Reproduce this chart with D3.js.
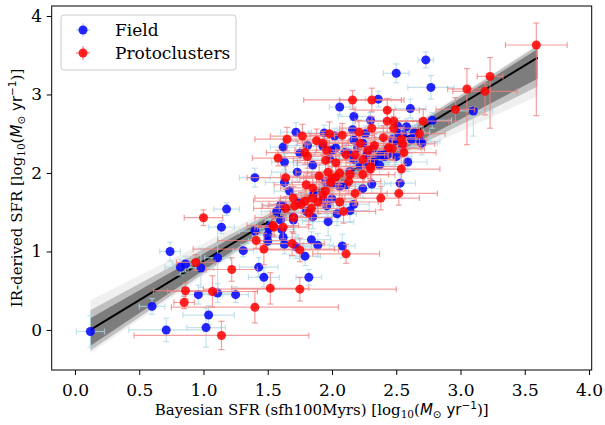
<!DOCTYPE html>
<html>
<head>
<meta charset="utf-8">
<script src="https://cdn.jsdelivr.net/npm/d3@7"></script>
<style>
  body { margin: 0; background: #fff; }
  svg text { font-family: "DejaVu Serif", serif; }
</style>
</head>
<body>
<svg width="605" height="425"></svg>
<script>
// [x, y, xerr, yerr]; yerr may be [lower, upper]
const fieldData = [
  [0.12,-0.02,0.11,0.20],[0.60,0.30,0.10,0.10],[0.71,0.00,0.29,0.15],[0.74,1.00,0.08,0.12],
  [0.82,0.80,0.12,0.10],[0.86,0.84,0.10,0.10],[0.98,0.79,0.10,0.25],[0.96,0.45,0.12,0.12],
  [1.02,0.03,0.15,0.25],[1.04,0.19,0.20,0.12],[1.11,0.92,0.10,0.40],[1.11,0.47,0.15,0.12],
  [1.14,1.31,0.10,0.08],[1.18,1.54,0.10,0.08],[1.25,0.45,0.10,0.10],[1.31,1.01,0.08,0.08],
  [1.40,1.94,0.12,0.12],[1.40,1.26,0.12,0.10],[1.43,0.80,0.15,0.12],[1.47,0.67,0.12,0.12],
  [1.50,1.13,0.15,0.10],[1.50,1.21,0.12,0.10],[1.51,1.29,0.10,0.12],[1.57,1.51,0.12,0.10],
  [1.60,1.59,0.15,0.10],[1.60,1.40,0.12,0.15],[1.61,1.28,0.10,0.10],[1.62,2.33,0.10,0.10],
  [1.62,1.18,0.12,0.10],[1.63,1.09,0.15,0.12],[1.63,1.88,0.15,0.12],[1.63,2.14,0.10,0.10],
  [1.67,1.77,0.12,0.10],[1.70,1.40,0.15,0.15],[1.72,1.06,0.12,0.15],[1.72,2.52,0.12,0.12],
  [1.73,2.01,0.20,0.12],[1.75,2.25,0.12,0.10],[1.79,0.94,0.12,0.12],[1.81,2.35,0.15,0.12],
  [1.82,0.67,0.10,0.10],[1.84,1.15,0.15,0.10],[1.85,2.10,0.15,0.12],[1.85,1.44,0.20,0.15],
  [1.89,1.08,0.12,0.15],[1.94,2.51,0.12,0.10],[1.93,2.34,0.15,0.10],[1.96,1.58,0.15,0.15],
  [1.97,1.38,0.20,0.18],[1.98,2.18,0.15,0.12],[2.00,1.87,0.15,0.12],[2.00,1.67,0.15,0.15],
  [2.02,2.47,0.15,0.10],[2.04,1.48,0.15,0.15],[2.06,2.84,0.08,0.10],[2.08,1.07,0.10,0.15],
  [2.03,2.32,0.12,0.12],[2.10,2.26,0.15,0.10],[2.11,1.85,0.20,0.12],[2.14,2.02,0.15,0.12],
  [2.14,1.52,0.15,0.15],[2.16,2.55,0.12,0.12],[2.17,1.60,0.12,0.12],[2.17,2.72,0.12,0.12],
  [2.20,2.32,0.15,0.10],[2.22,2.09,0.15,0.12],[2.24,1.80,0.15,0.12],[2.26,2.50,0.12,0.10],
  [2.28,2.26,0.15,0.10],[2.29,2.11,0.12,0.12],[2.30,2.67,0.10,0.10],[2.31,1.86,0.15,0.12],
  [2.33,2.17,0.12,0.10],[2.36,2.94,0.10,0.10],[2.37,2.10,0.12,0.12],[2.38,2.23,0.15,0.10],
  [2.43,2.23,0.12,0.10],[2.47,2.43,0.15,0.10],[2.50,3.27,0.10,0.12],[2.51,2.60,0.15,0.10],
  [2.53,1.87,0.12,0.12],[2.55,2.49,0.12,0.10],[2.58,2.59,0.12,0.10],[2.59,2.14,0.15,0.12],
  [2.61,2.82,0.12,0.12],[2.62,2.43,0.15,0.10],[2.64,2.51,0.12,0.10],[2.69,2.40,0.15,0.10],
  [2.70,2.38,0.12,0.15],[2.73,3.44,0.06,0.10],[2.77,3.09,0.18,0.15],[2.78,2.67,0.15,0.10],
  [3.10,2.79,0.15,[0.32,0.05]],[2.52,2.50,0.12,0.10],[2.17,2.42,0.12,0.10],[2.24,2.38,0.12,0.10],
  [2.48,2.40,0.12,0.10],[2.32,2.31,0.12,0.10],[2.55,2.33,0.12,0.10],[2.00,2.29,0.12,0.10],
  [2.13,2.25,0.12,0.10],[2.27,2.23,0.12,0.10],[2.41,2.21,0.12,0.10],[2.17,2.17,0.12,0.10],
  [2.32,2.14,0.12,0.10],[2.50,2.21,0.12,0.10],[2.43,2.29,0.12,0.10],[1.62,1.58,0.12,0.10],
  [1.70,1.44,0.12,0.12],[1.52,1.32,0.12,0.10],[1.80,1.51,0.15,0.12],[1.74,1.62,0.12,0.12],
  [1.86,1.74,0.15,0.12],[1.95,1.89,0.15,0.12],[2.06,1.83,0.15,0.12],[1.93,1.66,0.15,0.12]
];

const protoData = [
  [1.14,-0.07,0.68,0.18],[0.85,0.35,0.08,0.08],[0.86,0.50,0.25,0.10],[0.94,0.86,0.15,0.10],
  [1.00,1.43,0.15,0.10],[1.07,0.49,0.35,0.20],[1.22,0.77,0.20,0.15],[1.40,0.29,0.65,0.20],
  [1.41,1.14,0.30,0.10],[1.47,1.03,0.55,0.20],[1.52,0.53,0.30,0.20],[1.54,1.33,0.20,0.12],
  [1.55,1.31,0.15,0.12],[1.58,2.19,0.20,0.10],[1.62,1.31,0.20,0.15],[1.64,1.55,0.25,0.15],
  [1.64,1.94,0.30,0.15],[1.65,2.43,0.25,0.15],[1.69,1.10,0.25,0.15],[1.70,1.68,0.30,0.15],
  [1.71,1.58,0.25,0.15],[1.70,1.43,0.30,0.20],[1.75,1.02,0.30,0.15],[1.75,0.52,0.75,0.15],
  [1.77,2.47,0.25,0.15],[1.79,2.26,0.30,0.15],[1.81,2.21,0.25,0.15],[1.79,1.64,0.40,0.15],
  [1.80,1.85,0.25,0.15],[1.82,1.49,0.30,0.15],[1.84,1.55,0.25,0.15],[1.85,1.81,0.25,0.15],
  [1.89,1.63,0.30,0.15],[1.88,2.41,0.25,0.15],[1.90,1.96,0.30,0.15],[1.93,2.38,0.20,0.15],
  [1.95,2.16,0.25,0.15],[1.95,1.77,0.25,0.15],[1.97,2.01,0.25,0.15],[1.98,2.50,0.25,0.15],
  [1.99,1.88,0.30,0.15],[2.03,1.95,0.25,0.15],[2.03,2.13,0.30,0.15],[2.06,2.00,0.25,0.15],
  [2.06,1.63,0.30,0.15],[2.08,2.48,0.25,0.15],[2.09,1.51,0.25,0.15],[2.11,2.23,0.30,0.15],
  [2.11,0.97,0.26,0.12],[2.13,1.89,0.25,0.15],[2.14,1.98,0.30,0.15],[2.16,2.93,0.38,0.12],
  [2.18,2.23,0.25,0.15],[2.18,1.74,0.25,0.15],[2.21,2.52,0.25,0.15],[2.22,2.38,0.25,0.15],
  [2.24,2.17,0.25,0.15],[2.24,1.98,0.25,0.15],[2.31,2.93,0.25,0.15],[2.31,2.57,0.25,0.15],
  [2.30,2.05,0.25,0.15],[2.33,2.35,0.25,0.15],[2.38,1.68,0.30,0.15],[2.40,2.45,0.25,0.15],
  [2.43,2.80,0.25,0.15],[2.43,2.66,0.25,0.15],[2.44,2.32,0.25,0.15],[2.47,2.31,0.25,0.15],
  [2.48,2.66,0.20,0.15],[2.48,2.57,0.20,0.15],[2.52,1.74,0.30,0.15],[2.54,2.05,0.30,0.15],
  [2.54,2.43,0.20,0.15],[2.55,2.37,0.25,0.15],[2.56,2.26,0.25,0.15],[2.68,2.50,0.20,0.15],
  [2.71,2.66,0.20,0.15],[2.96,2.81,0.15,0.15],[3.05,3.07,0.15,[0.71,0.26]],[3.19,3.04,0.25,[0.30,0.10]],
  [3.23,3.23,0.10,[0.66,0.24]],[3.59,3.63,0.24,[0.90,0.28]],[1.96,2.29,0.25,0.15],[2.28,2.29,0.25,0.15],
  [2.30,2.08,0.25,0.15],[1.76,1.60,0.25,0.15],[1.85,1.68,0.25,0.15],[1.93,1.72,0.25,0.15],
  [2.00,1.93,0.25,0.15]
];

// best fit line and the spread of the posterior lines, read at x = 0.12, 1.9, 3.6
const fitX = [0.12, 3.6];
const fitY = [0.0, 3.47];
const bandX = [0.12, 1.9, 3.6];
const bandOuterLo = [-0.30, 1.70, 2.98];
const bandOuterHi = [0.38, 1.85, 3.64];
const bandMidLo = [-0.26, 1.72, 3.10];
const bandMidHi = [0.25, 1.83, 3.62];
const bandCoreLo = [-0.20, 1.74, 3.20];
const bandCoreHi = [0.15, 1.81, 3.58];

const xTicks = [0, 0.5, 1, 1.5, 2, 2.5, 3, 3.5, 4];
const yTicks = [0, 1, 2, 3, 4];

const svg = d3.select('svg');
const mLeft = 51.7, mRight = 591.7, mTop = 6, mBottom = 370;

const x = d3.scaleLinear().domain([-0.181, 4.021]).range([mLeft, mRight]);
const y = d3.scaleLinear().domain([-0.51, 4.127]).range([mBottom, mTop]);

const plot = svg.append('g');

// bands
function band(lo, hi, fill, op){
  const area = d3.area()
    .x((d,i)=>x(bandX[i]))
    .y0((d,i)=>y(lo[i]))
    .y1((d,i)=>y(hi[i]));
  plot.append('path').datum(bandX).attr('d', area)
      .attr('fill', fill).attr('fill-opacity', op);
}
band(bandOuterLo, bandOuterHi, '#000', 0.06);
band(bandMidLo, bandMidHi, '#000', 0.2);
band(bandCoreLo, bandCoreHi, '#000', 0.35);

plot.append('line')
  .attr('x1', x(fitX[0])).attr('y1', y(fitY[0]))
  .attr('x2', x(fitX[1])).attr('y2', y(fitY[1]))
  .attr('stroke', '#000').attr('stroke-width', 2);

// error bars + points
function series(data, errColor, dotColor){
  const g = plot.append('g');
  const cap = 3;
  const eb = g.append('g').attr('stroke', errColor).attr('stroke-width', 1.2).attr('stroke-opacity', 0.75);
  data.forEach(d => {
    const ye = Array.isArray(d[3]) ? d[3] : [d[3], d[3]];
    const px = x(d[0]), py = y(d[1]);
    const x0 = x(d[0]-d[2]), x1 = x(d[0]+d[2]);
    const y0 = y(d[1]-ye[0]), y1 = y(d[1]+ye[1]);
    eb.append('line').attr('x1', x0).attr('x2', x1).attr('y1', py).attr('y2', py);
    eb.append('line').attr('x1', px).attr('x2', px).attr('y1', y0).attr('y2', y1);
    eb.append('line').attr('x1', x0).attr('x2', x0).attr('y1', py-cap).attr('y2', py+cap);
    eb.append('line').attr('x1', x1).attr('x2', x1).attr('y1', py-cap).attr('y2', py+cap);
    eb.append('line').attr('x1', px-cap).attr('x2', px+cap).attr('y1', y0).attr('y2', y0);
    eb.append('line').attr('x1', px-cap).attr('x2', px+cap).attr('y1', y1).attr('y2', y1);
  });
  g.selectAll('circle').data(data).join('circle')
    .attr('cx', d=>x(d[0])).attr('cy', d=>y(d[1])).attr('r', 4.5)
    .attr('fill', dotColor).attr('fill-opacity', 0.85);
}
series(fieldData, '#add8e6', 'blue');
series(protoData, '#f08080', 'red');

// axes
const xAxis = svg.append('g').attr('transform', `translate(0,${mBottom})`)
  .call(d3.axisBottom(x).tickValues(xTicks).tickFormat(d3.format('.1f')).tickSizeOuter(0).tickSize(5));
const yAxis = svg.append('g').attr('transform', `translate(${mLeft},0)`)
  .call(d3.axisLeft(y).tickValues(yTicks).tickFormat(d3.format('d')).tickSizeOuter(0).tickSize(5));
[xAxis, yAxis].forEach(a => {
  a.select('.domain').remove();
  a.selectAll('text').attr('font-family', '"DejaVu Serif", serif').attr('font-size', 17).attr('fill', '#000');
  a.selectAll('line').attr('stroke', '#000');
});
xAxis.selectAll('text').attr('dy', '1.05em');
yAxis.selectAll('text').attr('dx', '-0.1em');

svg.append('rect').attr('x', mLeft).attr('y', mTop).attr('width', mRight-mLeft).attr('height', mBottom-mTop)
  .attr('fill', 'none').attr('stroke', '#000').attr('stroke-width', 1);

// axis labels
const xl = svg.append('text').attr('x', (mLeft+mRight)/2).attr('y', 415).attr('text-anchor', 'middle').attr('font-size', 15);
xl.append('tspan').text('Bayesian SFR (sfh100Myrs) [log');
xl.append('tspan').text('10').attr('font-size', 10.5).attr('dy', 3);
xl.append('tspan').text('(').attr('dy', -3);
xl.append('tspan').text('M').attr('font-style', 'italic').attr('font-family', '"DejaVu Sans", sans-serif');
xl.append('tspan').text('⊙').attr('font-size', 10.5).attr('dy', 3).attr('font-family', '"DejaVu Sans", sans-serif');
xl.append('tspan').text(' yr').attr('dy', -3).attr('font-family', '"DejaVu Sans", sans-serif');
xl.append('tspan').text('−1').attr('font-size', 10.5).attr('dy', -6).attr('font-family', '"DejaVu Sans", sans-serif');
xl.append('tspan').text(')]').attr('dy', 6);

const yl = svg.append('text').attr('transform', `translate(22,${(mTop+mBottom)/2}) rotate(-90)`)
  .attr('text-anchor', 'middle').attr('font-size', 15);
yl.append('tspan').text('IR-derived SFR [log');
yl.append('tspan').text('10').attr('font-size', 10.5).attr('dy', 3);
yl.append('tspan').text('(').attr('dy', -3);
yl.append('tspan').text('M').attr('font-style', 'italic').attr('font-family', '"DejaVu Sans", sans-serif');
yl.append('tspan').text('⊙').attr('font-size', 10.5).attr('dy', 3).attr('font-family', '"DejaVu Sans", sans-serif');
yl.append('tspan').text(' yr').attr('dy', -3).attr('font-family', '"DejaVu Sans", sans-serif');
yl.append('tspan').text('−1').attr('font-size', 10.5).attr('dy', -6).attr('font-family', '"DejaVu Sans", sans-serif');
yl.append('tspan').text(')]').attr('dy', 6);

// legend
const legend = svg.append('g');
legend.append('rect').attr('x', 61).attr('y', 15).attr('width', 175).attr('height', 55).attr('rx', 3)
  .attr('fill', '#fff').attr('fill-opacity', 0.8).attr('stroke', '#ccc');
[['Field', '#add8e6', 'blue', 30], ['Protoclusters', '#f08080', 'red', 53]].forEach(e => {
  const g = legend.append('g').attr('transform', `translate(83,${e[3]})`);
  g.append('line').attr('x1', -7).attr('x2', 7).attr('stroke', e[1]).attr('stroke-width', 1.2);
  g.append('line').attr('y1', -7).attr('y2', 7).attr('stroke', e[1]).attr('stroke-width', 1.2);
  g.append('circle').attr('r', 4.5).attr('fill', e[2]).attr('fill-opacity', 0.85);
  legend.append('text').attr('x', 115).attr('y', e[3]).attr('dy', '0.35em').attr('font-size', 17).text(e[0]);
});
</script>
</body>
</html>
